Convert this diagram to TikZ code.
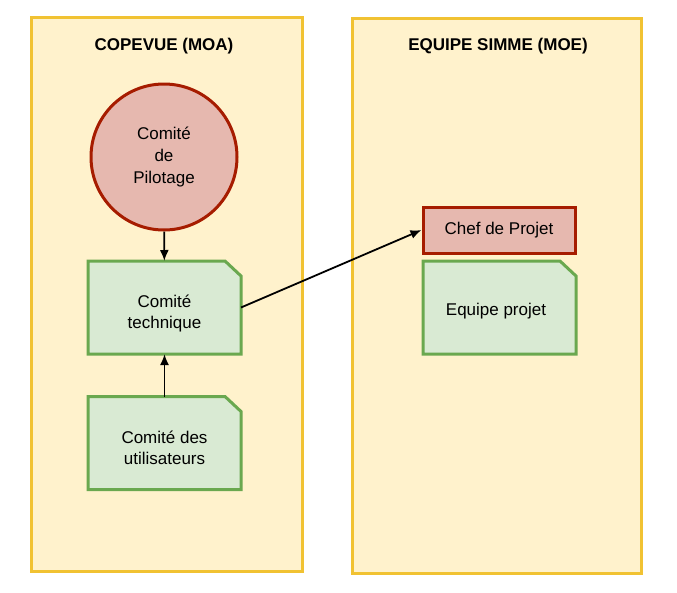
\documentclass[tikz,border=0pt]{standalone}
\usepackage{fontspec}
\setmainfont{Liberation Sans}
\usetikzlibrary{arrows.meta}
\definecolor{contfill}{HTML}{FFF2CC}
\definecolor{contline}{HTML}{F1C232}
\definecolor{redfill}{HTML}{E6B8AF}
\definecolor{redline}{HTML}{A61C00}
\definecolor{greenfill}{HTML}{D9EAD3}
\definecolor{greenline}{HTML}{6AA84F}
\tikzset{
  container/.style={draw=contline,fill=contfill,line width=3pt,minimum width=#1,inner sep=0pt},
  title/.style={font=\fontsize{17}{20}\selectfont\bfseries,inner sep=0pt},
  noteframe/.style={rectangle,minimum width=153pt,minimum height=93pt,inner sep=0pt,outer sep=0pt},
  noteline/.style={draw=greenline,fill=greenfill,line width=3pt,line join=miter},
  notetext/.style={inner sep=0pt,align=center,font=\fontsize{17}{21}\selectfont},
  redbox/.style={draw=redline,fill=redfill,line width=3pt,minimum width=152pt,minimum height=46pt,
    inner sep=0pt,align=center,font=\fontsize{17}{21}\selectfont},
  redcircle/.style={circle,draw=redline,fill=redfill,line width=3pt,minimum size=146pt,
    inner sep=0pt,align=center,font=\fontsize{17}{22}\selectfont},
  conn/.style={line width=1.8pt,-{Latex[length=11pt,width=9pt]}}
}
\newcommand{\notepath}[1]{%
  \path[noteline] (#1.south west) -- (#1.north west) -- ([xshift=-16pt]#1.north east)
    -- ([yshift=-15pt]#1.north east) -- (#1.south east) -- cycle;}
\begin{document}
\begin{tikzpicture}[x=1pt,y=-1pt]
\useasboundingbox[fill=white] (0,0) rectangle (677,592);
\node[container=271pt,minimum height=554pt] (moa) at (166.5,294) {};
\node[container=289pt,minimum height=555pt] (moe) at (496.5,295.5) {};
\node[title] (moatitle) at (164,46) {COPEVUE (MOA)};
\node[title] (moetitle) at (498,46) {EQUIPE SIMME (MOE)};
\node[redcircle] (pilotage) at (164,157) {Comité\\de\\Pilotage};
\node[noteframe] (technique) at (164.5,307.5) {};
\notepath{technique}
\node[notetext] (techniquetext) at (164.5,313) {Comité\\technique};
\node[noteframe] (utilisateurs) at (164.5,443) {};
\notepath{utilisateurs}
\node[notetext] (utilisateurstext) at (164.5,448) {Comité des\\utilisateurs};
\node[redbox] (chef) at (499,230) {Chef de Projet};
\node[noteframe] (equipe) at (499.5,307.5) {};
\notepath{equipe}
\node[notetext] (equipetext) at (496,311) {Equipe projet};
\draw[conn] (pilotage) -- (technique);
\draw[conn] (utilisateurs) -- (technique);
\draw[conn] (technique.east) -- (chef.west);
\end{tikzpicture}
\end{document}
